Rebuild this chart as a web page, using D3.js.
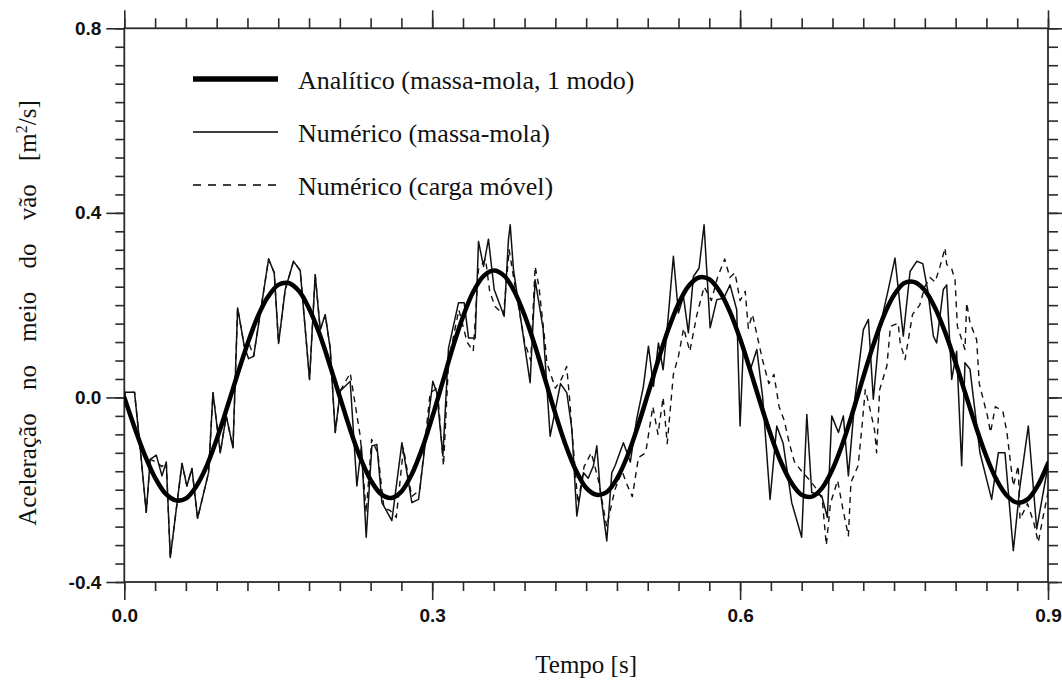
<!DOCTYPE html>
<html>
<head>
<meta charset="utf-8">
<script src="https://cdn.jsdelivr.net/npm/d3@7"></script>
<style>
  body { margin: 0; background: #fff; }
  svg { display: block; }
</style>
</head>
<body>
<svg id="chart" width="1062" height="686"></svg>
<script>
// Solução analítica (massa-mola, 1 modo), amostrada a cada 0.01 s
const tempoAnalitico = [
  0.00, 0.01, 0.02, 0.03, 0.04, 0.05, 0.06, 0.07, 0.08, 0.09,
  0.10, 0.11, 0.12, 0.13, 0.14, 0.15, 0.16, 0.17, 0.18, 0.19,
  0.20, 0.21, 0.22, 0.23, 0.24, 0.25, 0.26, 0.27, 0.28, 0.29,
  0.30, 0.31, 0.32, 0.33, 0.34, 0.35, 0.36, 0.37, 0.38, 0.39,
  0.40, 0.41, 0.42, 0.43, 0.44, 0.45, 0.46, 0.47, 0.48, 0.49,
  0.50, 0.51, 0.52, 0.53, 0.54, 0.55, 0.56, 0.57, 0.58, 0.59,
  0.60, 0.61, 0.62, 0.63, 0.64, 0.65, 0.66, 0.67, 0.68, 0.69,
  0.70, 0.71, 0.72, 0.73, 0.74, 0.75, 0.76, 0.77, 0.78, 0.79,
  0.80, 0.81, 0.82, 0.83, 0.84, 0.85, 0.86, 0.87, 0.88, 0.89,
  0.90
];
const acelAnalitico = [
  0.000, -0.065, -0.125, -0.174, -0.208, -0.223, -0.219, -0.193, -0.150, -0.091,
  -0.023, 0.048, 0.116, 0.175, 0.218, 0.244, 0.248, 0.231, 0.193, 0.139,
  0.072, 0.001, -0.069, -0.131, -0.179, -0.209, -0.218, -0.204, -0.167, -0.112,
  -0.043, 0.032, 0.108, 0.175, 0.229, 0.263, 0.275, 0.264, 0.230, 0.178,
  0.113, 0.039, -0.035, -0.103, -0.158, -0.196, -0.211, -0.205, -0.176, -0.128,
  -0.065, 0.006, 0.079, 0.147, 0.203, 0.242, 0.260, 0.256, 0.230, 0.186,
  0.127, 0.058, -0.014, -0.082, -0.141, -0.185, -0.211, -0.215, -0.196, -0.156,
  -0.099, -0.030, 0.044, 0.115, 0.177, 0.222, 0.248, 0.250, 0.232, 0.194,
  0.140, 0.075, 0.005, -0.065, -0.128, -0.179, -0.213, -0.228, -0.221, -0.191,
  -0.143
];

// Resposta numérica, modelo massa-mola
const tempoMassaMola = [
  0.0000, 0.0010, 0.0100, 0.0156, 0.0214, 0.0253, 0.0312, 0.0367, 0.0409, 0.0448,
  0.0562, 0.0610, 0.0659, 0.0714, 0.0821, 0.0864, 0.0935, 0.0993, 0.1059, 0.1104,
  0.1169, 0.1211, 0.1260, 0.1325, 0.1406, 0.1461, 0.1503, 0.1568, 0.1649, 0.1714,
  0.1805, 0.1860, 0.1909, 0.1958, 0.2006, 0.2055, 0.2104, 0.2201, 0.2266, 0.2310,
  0.2357, 0.2412, 0.2461, 0.2510, 0.2607, 0.2705, 0.2802, 0.2867, 0.3006, 0.3045,
  0.3104, 0.3143, 0.3159, 0.3256, 0.3312, 0.3354, 0.3419, 0.3451, 0.3500, 0.3548,
  0.3604, 0.3701, 0.3743, 0.3760, 0.3792, 0.3954, 0.4003, 0.4080, 0.4149, 0.4250,
  0.4312, 0.4361, 0.4409, 0.4474, 0.4520, 0.4571, 0.4604, 0.4636, 0.4701, 0.4750,
  0.4782, 0.4863, 0.4930, 0.4990, 0.5058, 0.5107, 0.5156, 0.5204, 0.5250, 0.5286,
  0.5350, 0.5399, 0.5448, 0.5496, 0.5545, 0.5600, 0.5649, 0.5708, 0.5773, 0.5840,
  0.5902, 0.5967, 0.6000, 0.6032, 0.6100, 0.6163, 0.6220, 0.6292, 0.6357, 0.6420,
  0.6503, 0.6600, 0.6650, 0.6698, 0.6795, 0.6850, 0.6893, 0.6958, 0.7006, 0.7055,
  0.7120, 0.7201, 0.7250, 0.7298, 0.7363, 0.7440, 0.7509, 0.7590, 0.7656, 0.7721,
  0.7780, 0.7830, 0.7883, 0.7915, 0.7980, 0.8013, 0.8062, 0.8110, 0.8159, 0.8191,
  0.8240, 0.8337, 0.8451, 0.8516, 0.8581, 0.8662, 0.8727, 0.8808, 0.8890, 0.9000
];
const acelMassaMola = [
  0.000, 0.011, 0.011, -0.112, -0.249, -0.134, -0.125, -0.170, -0.140, -0.347,
  -0.143, -0.192, -0.154, -0.262, -0.163, 0.010, -0.120, -0.040, -0.109, 0.194,
  0.111, 0.084, 0.089, 0.183, 0.300, 0.270, 0.117, 0.234, 0.295, 0.275,
  0.039, 0.266, 0.147, 0.179, 0.107, -0.076, 0.014, 0.035, -0.192, -0.105,
  -0.303, -0.105, -0.102, -0.228, -0.267, -0.098, -0.228, -0.221, 0.035, 0.010,
  -0.127, 0.039, 0.107, 0.205, 0.205, 0.129, 0.129, 0.338, 0.284, 0.343,
  0.234, 0.176, 0.342, 0.374, 0.277, 0.032, 0.255, 0.150, -0.084, 0.030,
  0.010, -0.069, -0.257, -0.163, -0.175, -0.148, -0.105, -0.199, -0.311, -0.163,
  -0.148, -0.098, -0.140, -0.050, 0.024, 0.111, 0.024, 0.118, 0.060, 0.140,
  0.306, 0.183, 0.219, 0.140, 0.262, 0.280, 0.374, 0.151, 0.212, 0.215,
  0.244, 0.190, -0.062, 0.111, 0.060, 0.104, 0.000, -0.221, -0.062, -0.100,
  -0.228, -0.303, -0.037, -0.206, -0.213, -0.260, -0.040, -0.076, -0.040, -0.170,
  0.000, 0.147, 0.169, -0.004, 0.154, 0.230, 0.302, 0.133, 0.273, 0.295,
  0.290, 0.230, 0.133, 0.118, 0.234, 0.244, 0.039, 0.100, -0.148, 0.075,
  0.061, -0.120, -0.221, -0.120, -0.120, -0.332, -0.192, -0.062, -0.285, -0.148
];

// Resposta numérica, modelo de carga móvel
const tempoCargaMovel = [
  0.0000, 0.0010, 0.0100, 0.0156, 0.0214, 0.0253, 0.0312, 0.0367, 0.0409, 0.0448,
  0.0562, 0.0610, 0.0659, 0.0714, 0.0821, 0.0864, 0.0935, 0.0993, 0.1059, 0.1104,
  0.1169, 0.1211, 0.1260, 0.1325, 0.1406, 0.1461, 0.1503, 0.1568, 0.1649, 0.1714,
  0.1805, 0.1860, 0.1909, 0.1958, 0.2006, 0.2055, 0.2104, 0.2201, 0.2299, 0.2357,
  0.2410, 0.2470, 0.2530, 0.2590, 0.2650, 0.2720, 0.2800, 0.2880, 0.2980, 0.3050,
  0.3110, 0.3160, 0.3260, 0.3340, 0.3400, 0.3450, 0.3520, 0.3560, 0.3613, 0.3695,
  0.3750, 0.3800, 0.3900, 0.3960, 0.4003, 0.4040, 0.4100, 0.4117, 0.4200, 0.4260,
  0.4310, 0.4340, 0.4360, 0.4420, 0.4480, 0.4550, 0.4620, 0.4700, 0.4780, 0.4850,
  0.4900, 0.4950, 0.5010, 0.5080, 0.5150, 0.5200, 0.5250, 0.5290, 0.5350, 0.5400,
  0.5450, 0.5510, 0.5580, 0.5650, 0.5720, 0.5780, 0.5850, 0.5900, 0.5950, 0.6000,
  0.6050, 0.6080, 0.6120, 0.6180, 0.6220, 0.6280, 0.6330, 0.6380, 0.6430, 0.6480,
  0.6530, 0.6600, 0.6680, 0.6750, 0.6800, 0.6840, 0.6880, 0.6950, 0.7000, 0.7055,
  0.7080, 0.7150, 0.7185, 0.7220, 0.7260, 0.7310, 0.7330, 0.7360, 0.7430, 0.7465,
  0.7540, 0.7560, 0.7607, 0.7680, 0.7750, 0.7800, 0.7850, 0.7900, 0.7948, 0.7997,
  0.8013, 0.8060, 0.8094, 0.8117, 0.8191, 0.8208, 0.8240, 0.8305, 0.8330, 0.8410,
  0.8440, 0.8487, 0.8560, 0.8600, 0.8662, 0.8710, 0.8727, 0.8800, 0.8860, 0.8905,
  0.8954, 0.9000
];
const acelCargaMovel = [
  0.000, 0.011, 0.011, -0.112, -0.249, -0.134, -0.140, -0.150, -0.140, -0.347,
  -0.143, -0.192, -0.154, -0.262, -0.163, 0.010, -0.120, -0.040, -0.109, 0.194,
  0.111, 0.120, 0.089, 0.183, 0.300, 0.270, 0.117, 0.234, 0.295, 0.275,
  0.039, 0.266, 0.147, 0.179, 0.107, -0.076, 0.014, 0.053, -0.084, -0.250,
  -0.091, -0.120, -0.240, -0.245, -0.260, -0.110, -0.215, -0.200, 0.010, 0.020,
  -0.148, 0.080, 0.190, 0.120, 0.100, 0.277, 0.300, 0.230, 0.197, 0.179,
  0.320, 0.250, 0.120, 0.080, 0.284, 0.240, 0.118, 0.075, 0.020, 0.040,
  0.067, -0.005, -0.069, -0.230, -0.150, -0.120, -0.180, -0.280, -0.200, -0.160,
  -0.190, -0.215, -0.130, -0.120, -0.020, -0.080, 0.000, -0.100, 0.050, 0.090,
  0.150, 0.100, 0.180, 0.240, 0.210, 0.260, 0.300, 0.260, 0.270, 0.210,
  0.230, 0.150, 0.180, 0.120, 0.080, 0.030, 0.050, -0.020, -0.050, -0.100,
  -0.140, -0.160, -0.180, -0.200, -0.220, -0.320, -0.230, -0.180, -0.240, -0.300,
  -0.184, -0.148, -0.069, 0.017, -0.020, -0.070, -0.120, 0.017, 0.068, 0.154,
  0.161, 0.118, 0.082, 0.180, 0.200, 0.240, 0.260, 0.250, 0.284, 0.324,
  0.288, 0.280, 0.255, 0.154, 0.104, 0.205, 0.162, 0.125, 0.030, -0.040,
  -0.076, -0.020, -0.030, -0.076, -0.192, -0.148, -0.264, -0.230, -0.270, -0.314,
  -0.257, -0.206
];

// Eixos
const xMajorTicks = [0.0, 0.3, 0.6, 0.9];
const yMajorTicks = [-0.4, 0.0, 0.4, 0.8];
const xMinorStep = 0.03;
const yMinorStep = 0.04;

const xTitle = "Tempo [s]";
const legendLabels = [
  "Analítico (massa-mola, 1 modo)",
  "Numérico (massa-mola)",
  "Numérico (carga móvel)"
];

// ---------- desenho ----------
const svg = d3.select("#chart");
const x = d3.scaleLinear().domain([0, 0.9]).range([124.3, 1048]);
const y = d3.scaleLinear().domain([-0.4, 0.8]).range([582, 28.3]);

const xMinor = d3.range(0, 0.9 + 1e-9, xMinorStep);
const yMinor = d3.range(-0.4, 0.8 + 1e-9, yMinorStep);
// rótulos com hífen simples como sinal de menos
const fmt = d3.formatLocale({ decimal: ".", thousands: ",", grouping: [3], currency: ["", ""], minus: "-" }).format(".1f");
const axisColor = "#2b2b2b";

svg.append("defs").append("clipPath").attr("id", "plotClip")
  .append("rect")
  .attr("x", x(0)).attr("y", y(0.8))
  .attr("width", x(0.9) - x(0)).attr("height", y(-0.4) - y(0.8));

function styleAxis(g) {
  g.select(".domain").remove();
  g.selectAll(".tick line").attr("stroke", axisColor).attr("stroke-width", 1.6);
  g.selectAll(".tick text")
    .attr("fill", "#111")
    .style("font-family", "'Liberation Sans', Arial, sans-serif")
    .style("font-weight", "bold")
    .style("font-size", "19px");
}

// inferior
svg.append("g").attr("transform", `translate(0,${y(-0.4)})`)
  .call(d3.axisBottom(x).tickValues(xMinor).tickSize(9).tickFormat(""))
  .call(styleAxis);
svg.append("g").attr("transform", `translate(0,${y(-0.4)})`)
  .call(d3.axisBottom(x).tickValues(xMajorTicks).tickSize(18).tickPadding(9).tickFormat(fmt))
  .call(styleAxis);
// superior
svg.append("g").attr("transform", `translate(0,${y(0.8)})`)
  .call(d3.axisTop(x).tickValues(xMinor).tickSize(10).tickFormat(""))
  .call(styleAxis);
svg.append("g").attr("transform", `translate(0,${y(0.8)})`)
  .call(d3.axisTop(x).tickValues(xMajorTicks).tickSize(18).tickFormat(""))
  .call(styleAxis);
// esquerdo
svg.append("g").attr("transform", `translate(${x(0)},0)`)
  .call(d3.axisLeft(y).tickValues(yMinor).tickSize(9).tickFormat(""))
  .call(styleAxis);
svg.append("g").attr("transform", `translate(${x(0)},0)`)
  .call(d3.axisLeft(y).tickValues(yMajorTicks).tickSize(18).tickPadding(5).tickFormat(fmt))
  .call(styleAxis);
// direito
svg.append("g").attr("transform", `translate(${x(0.9)},0)`)
  .call(d3.axisRight(y).tickValues(yMinor).tickSize(10).tickFormat(""))
  .call(styleAxis);
svg.append("g").attr("transform", `translate(${x(0.9)},0)`)
  .call(d3.axisRight(y).tickValues(yMajorTicks).tickSize(18).tickFormat(""))
  .call(styleAxis);

// moldura
svg.append("rect")
  .attr("x", x(0)).attr("y", y(0.8))
  .attr("width", x(0.9) - x(0)).attr("height", y(-0.4) - y(0.8))
  .attr("fill", "none").attr("stroke", axisColor).attr("stroke-width", 1.8);

// curvas
const plot = svg.append("g").attr("clip-path", "url(#plotClip)");
const line = d3.line().x(d => x(d[0])).y(d => y(d[1]));

plot.append("path")
  .datum(d3.zip(tempoCargaMovel, acelCargaMovel))
  .attr("d", line)
  .attr("fill", "none").attr("stroke", "#111")
  .attr("stroke-width", 1.4).attr("stroke-dasharray", "6,5")
  .attr("stroke-linejoin", "round");

plot.append("path")
  .datum(d3.zip(tempoMassaMola, acelMassaMola))
  .attr("d", line)
  .attr("fill", "none").attr("stroke", "#111")
  .attr("stroke-width", 1.5).attr("stroke-linejoin", "round");

plot.append("path")
  .datum(d3.zip(tempoAnalitico, acelAnalitico))
  .attr("d", line.curve(d3.curveCatmullRom))
  .attr("fill", "none").attr("stroke", "#000")
  .attr("stroke-width", 4.5).attr("stroke-linecap", "round");

// legenda
const legendStyles = [
  { width: 5.5, dash: null },
  { width: 1.6, dash: null },
  { width: 1.5, dash: "8,7" }
];
const legendRowY = [79, 132, 185];
const legend = svg.append("g");
legendLabels.forEach((label, i) => {
  legend.append("line")
    .attr("x1", 193).attr("x2", 278)
    .attr("y1", legendRowY[i]).attr("y2", legendRowY[i])
    .attr("stroke", "#000")
    .attr("stroke-width", legendStyles[i].width)
    .attr("stroke-dasharray", legendStyles[i].dash);
  legend.append("text")
    .attr("x", 298).attr("y", legendRowY[i] + 10)
    .style("font-family", "'Liberation Serif', 'Times New Roman', serif")
    .style("font-size", "26px")
    .attr("fill", "#111")
    .text(label);
});

// títulos dos eixos
svg.append("text")
  .attr("x", (x(0) + x(0.9)) / 2).attr("y", 673)
  .attr("text-anchor", "middle")
  .style("font-family", "'Liberation Serif', 'Times New Roman', serif")
  .style("font-size", "25px")
  .attr("fill", "#111")
  .text(xTitle);

const yTitle = svg.append("text")
  .attr("transform", "translate(36,313) rotate(-90)")
  .attr("text-anchor", "middle")
  .style("font-family", "'Liberation Serif', 'Times New Roman', serif")
  .style("font-size", "25px")
  .style("word-spacing", "17px")
  .attr("fill", "#111");
yTitle.append("tspan").text("Aceleração no meio do vão [m");
yTitle.append("tspan").attr("dy", -9).style("font-size", "16px").text("2");
yTitle.append("tspan").attr("dy", 9).text("/s]");
</script>
</body>
</html>
